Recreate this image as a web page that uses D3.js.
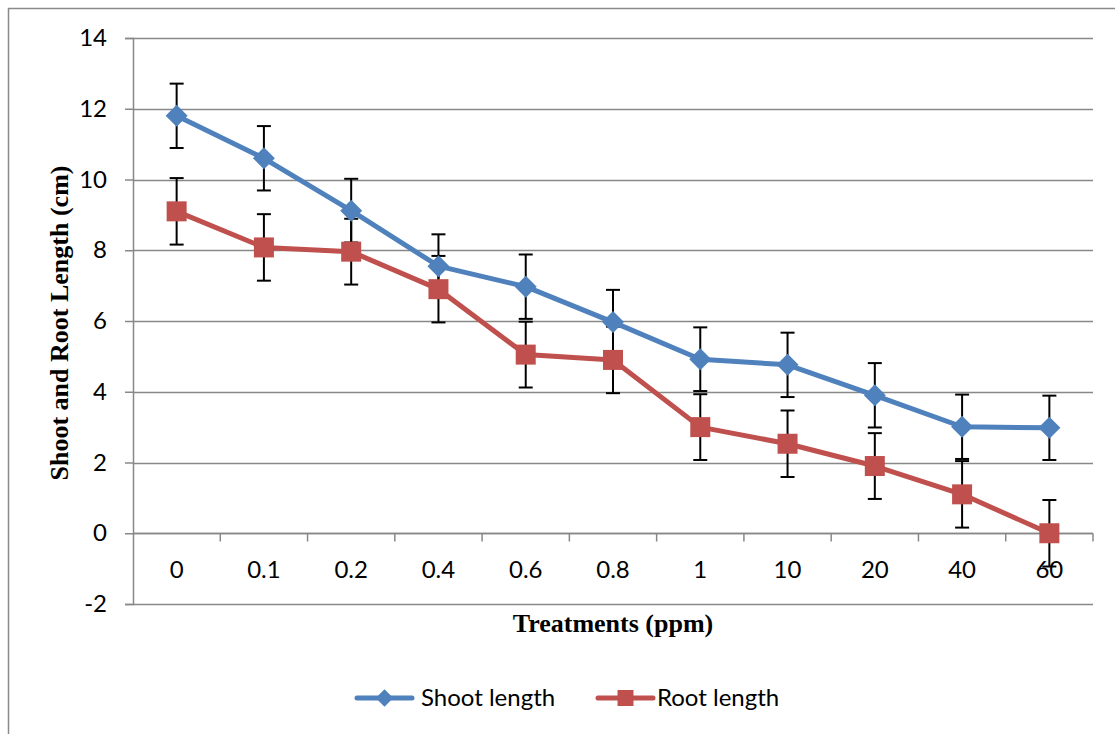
<!DOCTYPE html>
<html>
<head>
<meta charset="utf-8">
<script src="https://cdn.jsdelivr.net/npm/d3@7"></script>
<style>
  body { margin: 0; background: #fff; }
  svg { display: block; }
</style>
</head>
<body>
<svg id="chart"></svg>
<script>
var treatments = ["0", "0.1", "0.2", "0.4", "0.6", "0.8", "1", "10", "20", "40", "60"];
var shootLength = [11.8, 10.6, 9.12, 7.55, 6.97, 5.97, 4.92, 4.76, 3.9, 3.01, 2.98];
var rootLength = [9.1, 8.08, 7.96, 6.9, 5.05, 4.9, 3.0, 2.53, 1.9, 1.1, 0.0];
var shootError = [0.91, 0.91, 0.9, 0.9, 0.91, 0.91, 0.9, 0.91, 0.91, 0.91, 0.91];
var rootError = [0.94, 0.94, 0.93, 0.94, 0.93, 0.94, 0.93, 0.94, 0.93, 0.94, 0.94];
var yTicks = [-2, 0, 2, 4, 6, 8, 10, 12, 14];

var width = 1115, height = 734;
var plot = { left: 133, right: 1093, top: 38, bottom: 604 };
var blue = "#4F81BD", red = "#C0504D", gridColor = "#888888";
var sans = "Lato, 'Open Sans', sans-serif";
var serif = "'Liberation Serif', 'Times New Roman', serif";

var svg = d3.select("#chart").attr("width", width).attr("height", height);

// outer chart frame
svg.append("rect")
  .attr("x", 8.5).attr("y", 8.5)
  .attr("width", 1120).attr("height", 740)
  .attr("fill", "none").attr("stroke", "#8a8a8a").attr("stroke-width", 1.5);

var x = d3.scaleBand().domain(treatments).range([plot.left, plot.right]);
var y = d3.scaleLinear().domain([-2, 14]).range([plot.bottom, plot.top]);

// gridlines
svg.append("g").selectAll("line").data(yTicks).join("line")
  .attr("x1", plot.left).attr("x2", plot.right)
  .attr("y1", function (d) { return Math.round(y(d)) + 0.5; })
  .attr("y2", function (d) { return Math.round(y(d)) + 0.5; })
  .attr("stroke", gridColor).attr("stroke-width", 1.5);

// y axis
var yAxis = svg.append("g")
  .attr("transform", "translate(" + plot.left + ",0)")
  .call(d3.axisLeft(y).tickValues(yTicks).tickSize(8).tickPadding(18)
    .tickFormat(function (d) { return String(d); }));
yAxis.select(".domain").attr("stroke", gridColor).attr("stroke-width", 1.5);
yAxis.selectAll(".tick line").attr("stroke", gridColor).attr("stroke-width", 1.5);
yAxis.selectAll("text")
  .attr("fill", "#000")
  .style("font-family", sans)
  .style("font-size", "24px");

// x axis, crossing at 0
var xAxisG = svg.append("g").attr("transform", "translate(0," + (Math.round(y(0)) + 0.5) + ")");
xAxisG.append("line")
  .attr("x1", plot.left).attr("x2", plot.right)
  .attr("stroke", gridColor).attr("stroke-width", 1.5);
var bounds = treatments.map(function (t) { return x(t) + x.bandwidth(); });
xAxisG.selectAll(".xtick").data(bounds).join("line")
  .attr("class", "xtick")
  .attr("x1", function (d) { return d; }).attr("x2", function (d) { return d; })
  .attr("y1", 0).attr("y2", 8)
  .attr("stroke", gridColor).attr("stroke-width", 1.5);
xAxisG.selectAll(".xlabel").data(treatments).join("text")
  .attr("class", "xlabel")
  .attr("x", function (d) { return x(d) + x.bandwidth() / 2; })
  .attr("y", 44)
  .attr("text-anchor", "middle")
  .style("font-family", sans)
  .style("font-size", "24px")
  .text(function (d) { return d; });

// error bars
function drawErrors(values, errors, cls) {
  var g = svg.append("g").attr("class", cls);
  var data = values.map(function (v, i) { return { t: treatments[i], v: v, e: errors[i] }; });
  g.selectAll("line.v").data(data).join("line").attr("class", "v")
    .attr("x1", function (d) { return x(d.t) + x.bandwidth() / 2; })
    .attr("x2", function (d) { return x(d.t) + x.bandwidth() / 2; })
    .attr("y1", function (d) { return y(d.v + d.e); })
    .attr("y2", function (d) { return y(d.v - d.e); })
    .attr("stroke", "#000").attr("stroke-width", 2);
  [1, -1].forEach(function (s) {
    g.selectAll("line.c" + (s > 0 ? "t" : "b")).data(data).join("line").attr("class", "c" + (s > 0 ? "t" : "b"))
      .attr("x1", function (d) { return x(d.t) + x.bandwidth() / 2 - 7; })
      .attr("x2", function (d) { return x(d.t) + x.bandwidth() / 2 + 7; })
      .attr("y1", function (d) { return y(d.v + s * d.e); })
      .attr("y2", function (d) { return y(d.v + s * d.e); })
      .attr("stroke", "#000").attr("stroke-width", 2);
  });
}
drawErrors(shootLength, shootError, "err-shoot");
drawErrors(rootLength, rootError, "err-root");

var line = d3.line()
  .x(function (d, i) { return x(treatments[i]) + x.bandwidth() / 2; })
  .y(function (d) { return y(d); });

function drawSeries(values, color, shape) {
  svg.append("path").datum(values)
    .attr("d", line)
    .attr("fill", "none").attr("stroke", color).attr("stroke-width", 5)
    .attr("stroke-linejoin", "round");
  svg.append("g").selectAll("path").data(values).join("path")
    .attr("transform", function (d, i) {
      return "translate(" + (x(treatments[i]) + x.bandwidth() / 2) + "," + y(d) + ")";
    })
    .attr("d", shape)
    .attr("fill", color);
}
var diamond = "M0,-11L11,0L0,11L-11,0Z";
var square = "M-10,-10H10V10H-10Z";
drawSeries(shootLength, blue, diamond);
drawSeries(rootLength, red, square);

// axis titles
svg.append("text")
  .attr("x", 613)
  .attr("y", 632)
  .attr("text-anchor", "middle")
  .style("font-family", serif)
  .style("font-weight", "bold")
  .style("font-size", "26px")
  .text("Treatments (ppm)");

svg.append("text")
  .attr("transform", "translate(68," + ((plot.top + plot.bottom) / 2 + 2) + ") rotate(-90)")
  .attr("text-anchor", "middle")
  .style("font-family", serif)
  .style("font-weight", "bold")
  .style("font-size", "26px")
  .text("Shoot and Root Length (cm)");

// legend
var legend = [
  { name: "Shoot length", color: blue, shape: diamond, x: 357 },
  { name: "Root length", color: red, shape: square, x: 598 }
];
var lg = svg.append("g").selectAll("g").data(legend).join("g")
  .attr("transform", function (d) { return "translate(" + d.x + ",698)"; });
lg.append("line").attr("x1", 0).attr("x2", 55)
  .attr("stroke", function (d) { return d.color; })
  .attr("stroke-width", 5).attr("stroke-linecap", "round");
lg.append("path").attr("transform", "translate(27.5,0) scale(0.8)")
  .attr("d", function (d) { return d.shape; })
  .attr("fill", function (d) { return d.color; });
lg.append("text").attr("x", function (d, i) { return i === 0 ? 64 : 59; }).attr("y", 8)
  .style("font-family", sans)
  .style("font-size", "24px")
  .text(function (d) { return d.name; });
</script>
</body>
</html>
